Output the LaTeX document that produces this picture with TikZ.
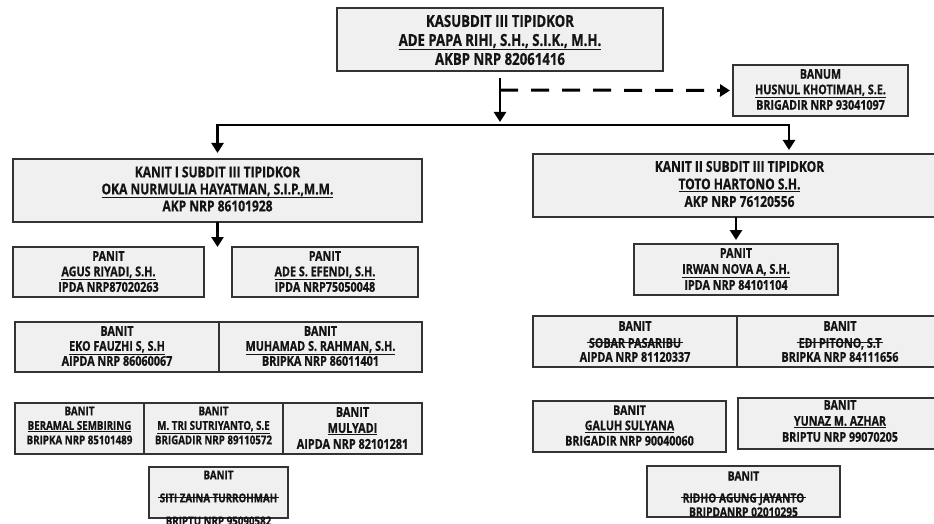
\documentclass[tikz,border=0pt]{standalone}
\usepackage{fontspec}
\newfontfamily\cf{Open Sans}[FakeStretch=0.8, BoldFeatures={FakeBold=0.6}]
\usetikzlibrary{arrows.meta,calc}
\newcommand\ul[1]{\underline{#1}}
\newcommand\strk[1]{\setbox0=\hbox{#1}\rlap{\kern-2pt\raisebox{0.5\ht0}{\rule{\dimexpr\wd0+4pt\relax}{0.8pt}}}\box0}
\newcommand\fsz[2]{\fontsize{#1}{#2}\selectfont}
\newcommand\bx[5]{\node[box, minimum width={(#4)-(#2)}, minimum height={(#5)-(#3)}] (#1) at ({((#2)+(#4))/2},{((#3)+(#5))/2}) {};}
\tikzset{
  box/.style={draw=black!80, fill=black!6, line width=1.4pt, inner sep=0pt, outer sep=0pt},
  tx/.style={align=center, inner sep=0pt, text=black!92, execute at begin node={\lineskiplimit=-50pt}},
  arr/.style={line width=2.8pt, -{Triangle[width=12pt,length=10pt]}},
  dsh/.style={line width=3pt, dash pattern=on 18pt off 13pt, -{Triangle[width=12pt,length=10pt]}},
}
\begin{document}
\begin{tikzpicture}[x=1pt,y=-1pt]
\useasboundingbox (0,0) rectangle (934,524);
\clip (0,0) rectangle (934,524);
\fill[white] (0,0) rectangle (934,524);
% boxes
\bx{top}{337}{8}{663}{71}
\bx{banum}{733}{65}{908}{116}
\bx{k1}{13}{159}{422}{222}
\bx{k2}{533}{154}{946}{217}
\bx{p1}{13}{247}{204}{297}
\bx{p2}{232}{247}{418}{297}
\bx{p3}{634}{244}{838}{295}
\bx{b1}{15}{322}{219}{372}
\bx{b2}{219}{322}{422}{372}
\bx{b3}{15}{403}{144}{454}
\bx{b4}{144}{403}{283}{454}
\bx{b5}{283}{403}{422}{454}
\bx{b6}{149}{467}{288}{518}
\bx{r1}{533}{316}{737}{367}
\bx{r2}{737}{316}{943}{367}
\bx{r3}{533}{401}{726}{452}
\bx{r4}{738}{398}{943}{449}
\bx{r5}{647}{466}{840}{517}
% texts
\node[tx, font=\cf\bfseries\fsz{16.5}{19}] (top-t) at (500,40) {KASUBDIT III TIPIDKOR\\\ul{ADE PAPA RIHI, S.H., S.I.K., M.H.}\\AKBP NRP 82061416};
\node[tx, font=\cf\bfseries\fsz{13.4}{15.5}] (banum-t) at (820.5,89.5) {BANUM\\\ul{HUSNUL KHOTIMAH, S.E.}\\BRIGADIR NRP 93041097};
\node[tx, font=\cf\bfseries\fsz{15}{17}] (k1-t) at (217.5,189) {KANIT I SUBDIT III TIPIDKOR\\\ul{OKA NURMULIA HAYATMAN, S.I.P.,M.M.}\\AKP NRP 86101928};
\node[tx, font=\cf\bfseries\fsz{15}{17.5}] (k2-t) at (739.5,184) {KANIT II SUBDIT III TIPIDKOR\\\ul{TOTO HARTONO S.H.}\\AKP NRP 76120556};
\node[tx, font=\cf\bfseries\fsz{13.5}{15.5}] (p1-t) at (108.5,271.5) {PANIT\\\ul{AGUS RIYADI, S.H.}\\IPDA NRP87020263};
\node[tx, font=\cf\bfseries\fsz{13.5}{15.5}] (p2-t) at (325,271.5) {PANIT\\\ul{ADE S. EFENDI, S.H.}\\IPDA NRP75050048};
\node[tx, font=\cf\bfseries\fsz{13.5}{16}] (p3-t) at (736,269) {PANIT\\\ul{IRWAN NOVA A, S.H.}\\IPDA NRP 84101104};
\node[tx, font=\cf\bfseries\fsz{13.5}{15}] (b1-t) at (117,346) {BANIT\\\ul{EKO FAUZHI S, S.H}\\AIPDA NRP 86060067};
\node[tx, font=\cf\bfseries\fsz{13.5}{15}] (b2-t) at (320.5,346) {BANIT\\\ul{MUHAMAD S. RAHMAN, S.H.}\\BRIPKA NRP 86011401};
\node[tx, font=\cf\bfseries\fsz{12.2}{14.5}] (b3-t) at (79.5,425.5) {BANIT\\\ul{BERAMAL SEMBIRING}\\BRIPKA NRP 85101489};
\node[tx, font=\cf\bfseries\fsz{12.2}{14.5}] (b4-t) at (213.5,425.5) {BANIT\\\ul{M. TRI SUTRIYANTO, S.E}\\BRIGADIR NRP 89110572};
\node[tx, font=\cf\bfseries\fsz{13.6}{16}] (b5-t) at (352.5,428) {BANIT\\\ul{MULYADI}\\AIPDA NRP 82101281};
\node[tx, font=\cf\bfseries\fsz{12.2}{23}] (b6-t) at (218.5,498) {BANIT\\\strk{SITI ZAINA TURROHMAH}\\BRIPTU NRP 95090582};
\node[tx, font=\cf\bfseries\fsz{13.5}{14}] (r1-t) at (635,341.5) {BANIT\\[3pt]\strk{SOBAR PASARIBU}\\AIPDA NRP 81120337};
\node[tx, font=\cf\bfseries\fsz{13.5}{14}] (r2-t) at (840,341.5) {BANIT\\[3pt]\strk{EDI PITONO, S.T}\\BRIPKA NRP 84111656};
\node[tx, font=\cf\bfseries\fsz{13.4}{15.3}] (r3-t) at (629.5,425.5) {BANIT\\\ul{GALUH SULYANA}\\BRIGADIR NRP 90040060};
\node[tx, font=\cf\bfseries\fsz{13.4}{16}] (r4-t) at (840,421) {BANIT\\\ul{YUNAZ M. AZHAR}\\BRIPTU NRP 99070205};
\node[tx, font=\cf\bfseries\fsz{12.8}{14}] (r5-t) at (743.5,494) {BANIT\\[8pt]\strk{RIDHO AGUNG JAYANTO}\\BRIPDANRP 02010295};
% connectors
\coordinate (jn) at (500,125);
\coordinate (jnup) at (500,122);
\draw[arr] ($(top.south)+(0,7)$) -- (jnup);
\draw[dsh, shorten >=3pt] (500,90) -- (banum.west);
\draw[arr, shorten >=6pt] (jn) -| (k1.north);
\coordinate (k2in) at ($(k2.north west)+(256,0)$);
\draw[arr, shorten >=4pt] (jn) -| (k2in);
\coordinate (k1out) at (217.5,247);
\draw[arr] (k1.south) -- (k1out);
\draw[arr, shorten >=4pt] (k2.south -| p3.north) -- (p3.north);
\end{tikzpicture}
\end{document}
